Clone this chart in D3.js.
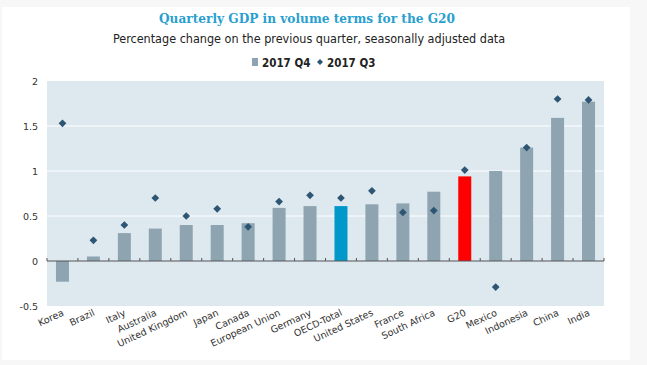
<!DOCTYPE html>
<html>
<head>
<meta charset="utf-8">
<script src="https://d3js.org/d3.v7.min.js"></script>
<style>
  body { margin: 0; background: #f7f7f7; }
  svg { display: block; }
</style>
</head>
<body>
<script>

var countries = ["Korea", "Brazil", "Italy", "Australia", "United Kingdom", "Japan", "Canada",
  "European Union", "Germany", "OECD-Total", "United States", "France", "South Africa",
  "G20", "Mexico", "Indonesia", "China", "India"]
var q4 = [-0.23, 0.05, 0.31, 0.36, 0.40, 0.40, 0.42, 0.59, 0.61, 0.61, 0.63, 0.64, 0.77, 0.94, 1.00, 1.26, 1.59, 1.77]
var q3 = [1.53, 0.23, 0.40, 0.70, 0.50, 0.58, 0.38, 0.66, 0.73, 0.70, 0.78, 0.54, 0.56, 1.01, -0.29, 1.26, 1.80, 1.79]
var yTicks = [-0.5, 0, 0.5, 1, 1.5, 2]

var width = 647
var height = 365

var svg = d3.select('body').append('svg')
  .attr('width', width)
  .attr('height', height)

// white card
svg.append('rect')
  .attr('x', 2).attr('y', 7)
  .attr('width', 628).attr('height', 353)
  .attr('fill', '#fff')

var pLeft = 47, pRight = 604, pTop = 81, pBottom = 306

var x = d3.scaleBand().domain(countries).range([pLeft, pRight]).paddingInner(0.58).paddingOuter(0.29)
var xb = d3.scaleBand().domain(countries).range([pLeft, pRight])
var y = d3.scaleLinear().domain([-0.5, 2]).range([pBottom, pTop])

// titles
svg.append('text')
  .attr('x', 307).attr('y', 23)
  .attr('text-anchor', 'middle')
  .style('font-family', 'DejaVu Serif Condensed, DejaVu Serif')
  .style('font-weight', 'bold')
  .style('font-size', '13.5px')
  .attr('fill', '#2a9fcf')
  .text('Quarterly GDP in volume terms for the G20')

svg.append('text')
  .attr('x', 309).attr('y', 43)
  .attr('text-anchor', 'middle')
  .style('font-family', 'Liberation Sans Narrow, DejaVu Sans Condensed')
  .style('font-size', '12.5px')
  .attr('fill', '#222')
  .text('Percentage change on the previous quarter, seasonally adjusted data')

// legend
var leg = svg.append('g').style('font-family', 'Liberation Sans Narrow, DejaVu Sans Condensed')
  .style('font-weight', 'bold').style('font-size', '11.5px').attr('fill', '#222')
leg.append('rect').attr('x', 252).attr('y', 58).attr('width', 6).attr('height', 8).attr('fill', '#8fa4b1')
leg.append('text').attr('x', 262).attr('y', 66.5).text('2017 Q4')
leg.append('path').attr('d', d3.symbol(d3.symbolSquare, 18)())
  .attr('transform', 'translate(320,62) rotate(45)').attr('fill', '#2d5574')
leg.append('text').attr('x', 327).attr('y', 66.5).text('2017 Q3')

// plot background
svg.append('rect')
  .attr('x', pLeft).attr('y', pTop)
  .attr('width', pRight - pLeft).attr('height', pBottom - pTop)
  .attr('fill', '#dde8ef')

// gridlines
svg.append('g').selectAll('line')
  .data(yTicks.filter(function(d) { return d > 0 && d < 2 }))
  .enter().append('line')
  .attr('x1', pLeft).attr('x2', pRight)
  .attr('y1', function(d) { return y(d) }).attr('y2', function(d) { return y(d) })
  .attr('stroke', '#fff').attr('stroke-width', 1)

// y axis labels
svg.append('g').selectAll('text')
  .data(yTicks)
  .enter().append('text')
  .attr('x', 38).attr('y', function(d) { return y(d) + 3.5 })
  .attr('text-anchor', 'end')
  .style('font-family', 'DejaVu Sans, sans-serif')
  .style('font-size', '9.5px')
  .attr('fill', '#333')
  .text(function(d) { return d })

// bars
svg.append('g').selectAll('rect')
  .data(countries)
  .enter().append('rect')
  .attr('x', function(d) { return x(d) })
  .attr('width', x.bandwidth())
  .attr('y', function(d, i) { return y(Math.max(0, q4[i])) })
  .attr('height', function(d, i) { return Math.abs(y(q4[i]) - y(0)) })
  .attr('fill', function(d) {
    if (d == 'OECD-Total') return '#0097c9'
    if (d == 'G20') return '#ff0000'
    return '#8fa4b1'
  })

// zero axis
var axis = svg.append('g')
axis.append('line')
  .attr('x1', pLeft).attr('x2', pRight)
  .attr('y1', y(0)).attr('y2', y(0))
  .attr('stroke', '#555').attr('stroke-width', 1)
axis.selectAll('.tick')
  .data(d3.range(countries.length + 1))
  .enter().append('line')
  .attr('x1', function(i) { return pLeft + i * xb.step() })
  .attr('x2', function(i) { return pLeft + i * xb.step() })
  .attr('y1', y(0)).attr('y2', y(0) - 3)
  .attr('stroke', '#555')

// diamonds
svg.append('g').selectAll('path')
  .data(countries)
  .enter().append('path')
  .attr('d', d3.symbol(d3.symbolSquare, 30)())
  .attr('transform', function(d, i) {
    return 'translate(' + (xb(d) + xb.bandwidth() / 2) + ',' + y(q3[i]) + ') rotate(45)'
  })
  .attr('fill', '#2d5574')

// x labels
svg.append('g').selectAll('text')
  .data(countries)
  .enter().append('text')
  .attr('text-anchor', 'end')
  .attr('transform', function(d) {
    return 'translate(' + (xb(d) + xb.bandwidth() / 2 + 2) + ',' + (pBottom + 9) + ') rotate(-25)'
  })
  .style('font-family', 'DejaVu Sans, sans-serif')
  .style('font-size', '9.5px')
  .attr('fill', '#333')
  .text(function(d) { return d })

</script>
</body>
</html>
